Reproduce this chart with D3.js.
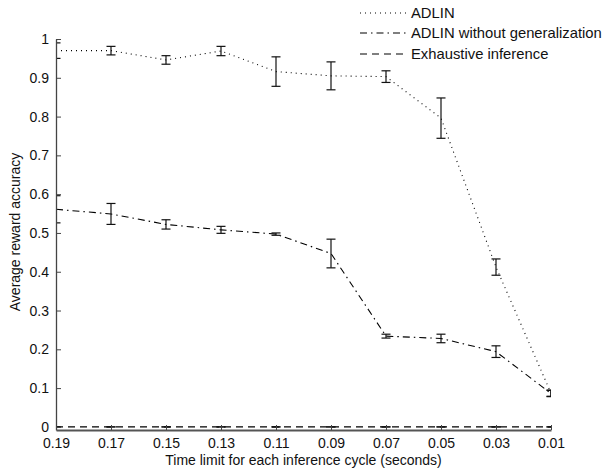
<!DOCTYPE html>
<html><head><meta charset="utf-8">
<script src="https://cdn.jsdelivr.net/npm/d3@7"></script>
<style>body{margin:0;background:#fff}svg{display:block}text{font-family:"Liberation Sans",Arial,Helvetica,sans-serif}</style>
</head><body>
<svg id="c" width="610" height="469"></svg>
<script>
const categories = ["0.19","0.17","0.15","0.13","0.11","0.09","0.07","0.05","0.03","0.01"];
const adlin      = [0.970,0.970,0.946,0.969,0.916,0.905,0.903,0.796,0.412,0.087];
const adlinErr   = [0.020,0.011,0.011,0.012,0.038,0.036,0.015,0.052,0.021,0.008];
const noGen      = [0.561,0.549,0.522,0.508,0.497,0.447,0.234,0.228,0.194,0.086];
const noGenErr   = [0.035,0.027,0.012,0.009,0.003,0.037,0.005,0.011,0.015,0.008];
const exhaustive = [0,0,0,0,0,0,0,0,0,0];
const exhErr     = [0,0,0,0,0,0,0,0,0,0];
const yTicks = [0,0.1,0.2,0.3,0.4,0.5,0.6,0.7,0.8,0.9,1];
const seriesNames = ["ADLIN","ADLIN without generalization","Exhaustive inference"];

const svg = d3.select("#c");
const L = 56, R = 551, T = 39, B = 430;
const x = d3.scalePoint().domain(categories).range([L, R]).padding(0);
const y = d3.scaleLinear().domain([-0.008, 1]).range([B, T]);

const styles = [
  {dash:"1,4", w:1.1},
  {dash:"7,4,1.5,4", w:1.1},
  {dash:"7,5", w:1.1}
];
const series = [
  {vals: adlin, err: adlinErr},
  {vals: noGen, err: noGenErr},
  {vals: exhaustive, err: exhErr}
];

svg.append("clipPath").attr("id","clip").append("rect")
  .attr("x", L).attr("y", T - 20).attr("width", R - L).attr("height", B - T + 20);
const plot = svg.append("g").attr("clip-path","url(#clip)");

series.forEach((s, i) => {
  const data = categories.map((c, j) => ({c, v: s.vals[j], e: s.err[j]}));
  plot.append("path").datum(data)
    .attr("fill","none").attr("stroke","#000")
    .attr("stroke-width", styles[i].w)
    .attr("stroke-dasharray", styles[i].dash)
    .attr("d", d3.line().x(d => x(d.c)).y(d => y(d.v)));
  const eb = plot.append("g").attr("stroke","#111").attr("stroke-width",1.2).attr("fill","none");
  data.forEach(d => {
    const cx = x(d.c), y1 = y(d.v + d.e), y2 = y(d.v - d.e);
    eb.append("line").attr("x1",cx).attr("x2",cx).attr("y1",y1).attr("y2",y2);
    eb.append("line").attr("x1",cx-4.5).attr("x2",cx+4.5).attr("y1",y1).attr("y2",y1);
    eb.append("line").attr("x1",cx-4.5).attr("x2",cx+4.5).attr("y1",y2).attr("y2",y2);
  });
});

// axes
const yAxis = svg.append("g").attr("transform",`translate(${L},0)`)
  .call(d3.axisLeft(y).tickValues(yTicks).tickSizeInner(-5).tickSizeOuter(0)
    .tickPadding(7).tickFormat(d3.format("~g")));
yAxis.select(".domain").attr("stroke","#444").attr("stroke-width",1.3);
yAxis.selectAll(".tick line").attr("stroke","#444");
yAxis.selectAll("text").attr("font-size",14).attr("fill","#111");

const xAxis = svg.append("g").attr("transform",`translate(0,${B})`)
  .call(d3.axisBottom(x).tickSizeInner(-5).tickSizeOuter(0).tickPadding(8));
xAxis.select(".domain").attr("stroke","#555").attr("stroke-width",1.8);
xAxis.selectAll(".tick line").attr("stroke","#444");
xAxis.selectAll("text").attr("font-size",14).attr("fill","#111");

svg.append("text").attr("x",(L+R)/2).attr("y",465).attr("text-anchor","middle")
  .attr("font-size",14).attr("fill","#111").text("Time limit for each inference cycle (seconds)");
svg.append("text").attr("transform",`translate(20,232) rotate(-90)`)
  .attr("text-anchor","middle").attr("font-size",14).attr("fill","#111").text("Average reward accuracy");

// legend
const legY = [13, 33, 54];
seriesNames.forEach((n, i) => {
  svg.append("line").attr("x1",360).attr("x2",406).attr("y1",legY[i]).attr("y2",legY[i])
    .attr("stroke","#000").attr("stroke-width",styles[i].w).attr("stroke-dasharray",styles[i].dash);
  svg.append("text").attr("x",411).attr("y",legY[i]).attr("dy","0.35em")
    .attr("font-size",14.8).attr("fill","#111").text(n);
});
</script>
</body></html>
